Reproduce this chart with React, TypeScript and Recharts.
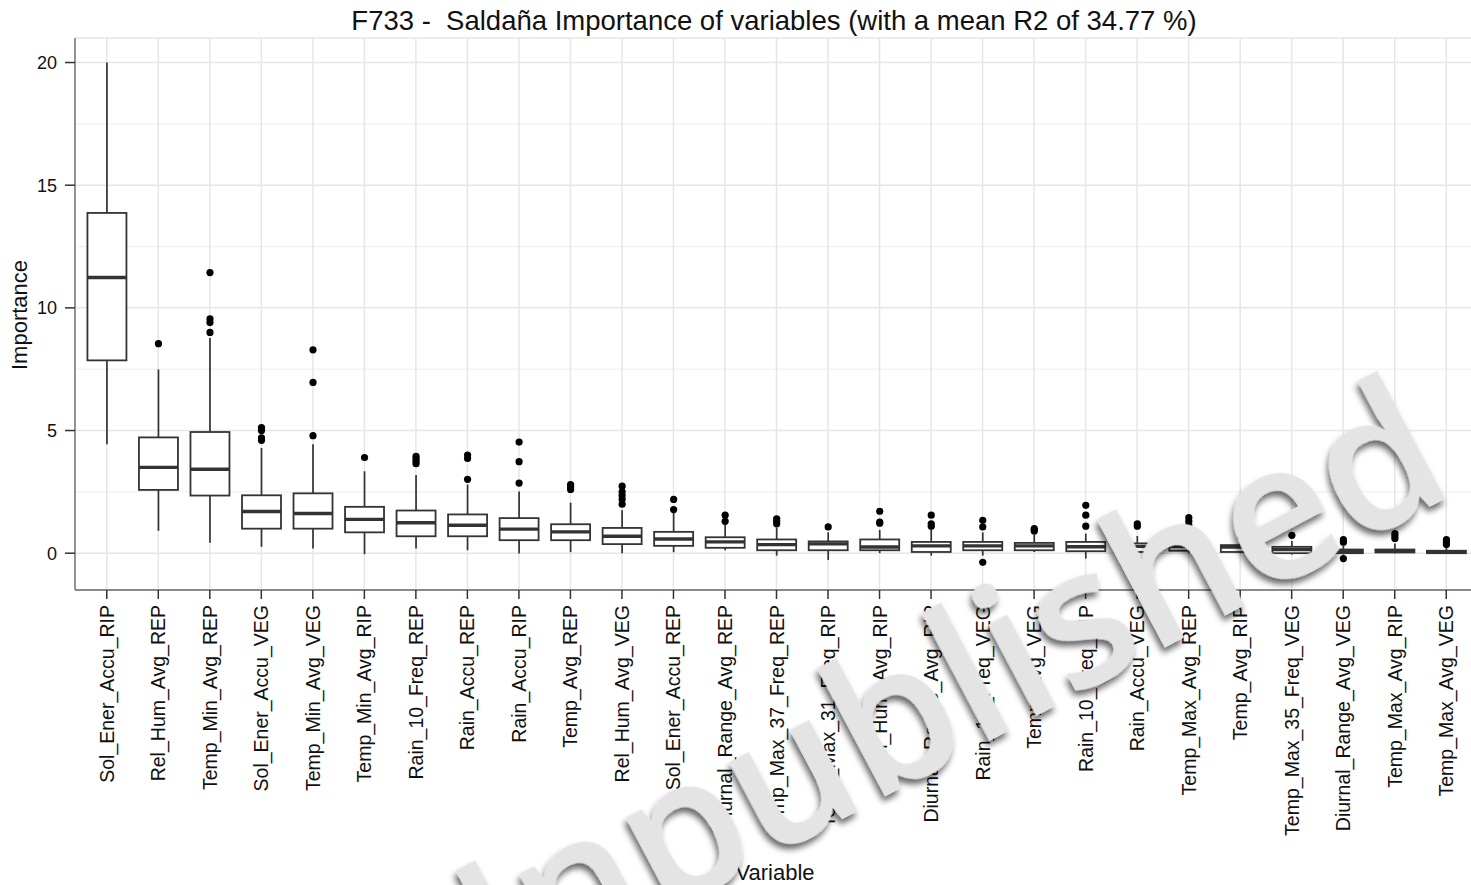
import React from "react";
import { ComposedChart, Bar, XAxis, YAxis, CartesianGrid } from "recharts";

const variables = [
  "Sol_Ener_Accu_RIP", "Rel_Hum_Avg_REP", "Temp_Min_Avg_REP", "Sol_Ener_Accu_VEG",
  "Temp_Min_Avg_VEG", "Temp_Min_Avg_RIP", "Rain_10_Freq_REP", "Rain_Accu_REP",
  "Rain_Accu_RIP", "Temp_Avg_REP", "Rel_Hum_Avg_VEG", "Sol_Ener_Accu_REP",
  "Diurnal_Range_Avg_REP", "Temp_Max_37_Freq_REP", "Temp_Max_31_Freq_RIP", "Rel_Hum_Avg_RIP",
  "Diurnal_Range_Avg_RIP", "Rain_10_Freq_VEG", "Temp_Avg_VEG", "Rain_10_Freq_RIP",
  "Rain_Accu_VEG", "Temp_Max_Avg_REP", "Temp_Avg_RIP", "Temp_Max_35_Freq_VEG",
  "Diurnal_Range_Avg_VEG", "Temp_Max_Avg_RIP", "Temp_Max_Avg_VEG",
];

const whiskerLow = [4.44, 0.91, 0.43, 0.26, 0.19, -0.04, 0.19, 0.12, -0.01, 0.04, 0.0, 0.04, 0.12, -0.1, -0.28, 0.0, -0.1, -0.1, 0.05, -0.22, 0.0, 0.0, 0.0, -0.05, -0.05, 0.0, -0.02];
const q1 = [7.86, 2.58, 2.35, 1.0, 1.0, 0.85, 0.69, 0.69, 0.53, 0.53, 0.37, 0.3, 0.22, 0.12, 0.12, 0.12, 0.05, 0.12, 0.12, 0.08, 0.05, 0.1, 0.05, 0.0, 0.0, 0.03, 0.0];
const median = [11.24, 3.5, 3.42, 1.7, 1.62, 1.38, 1.24, 1.14, 0.98, 0.87, 0.69, 0.58, 0.46, 0.35, 0.38, 0.25, 0.3, 0.3, 0.3, 0.26, 0.28, 0.28, 0.25, 0.15, 0.08, 0.1, 0.05];
const q3 = [13.87, 4.72, 4.94, 2.36, 2.44, 1.89, 1.74, 1.58, 1.43, 1.18, 1.03, 0.87, 0.65, 0.56, 0.48, 0.56, 0.46, 0.46, 0.42, 0.46, 0.4, 0.4, 0.33, 0.26, 0.15, 0.15, 0.1];
const whiskerHigh = [20.0, 7.49, 8.77, 4.29, 4.44, 3.34, 3.19, 2.8, 2.52, 2.06, 1.75, 1.65, 1.15, 1.05, 0.85, 0.95, 0.95, 0.85, 0.75, 0.8, 0.7, 0.9, 0.55, 0.5, 0.3, 0.4, 0.25];
const outliers = [
  [], [8.54], [9.0, 9.4, 9.55, 11.44], [4.6, 4.7, 5.0, 5.12], [4.79, 6.96, 8.29],
  [3.9], [3.65, 3.75, 3.85, 3.95], [3.01, 3.86, 4.0], [2.86, 3.73, 4.53], [2.6, 2.7, 2.8],
  [2.0, 2.2, 2.35, 2.5, 2.73], [1.78, 2.19], [1.3, 1.55], [1.2, 1.3, 1.4], [1.07],
  [1.22, 1.27, 1.71], [1.1, 1.2, 1.55], [1.07, 1.34, -0.37], [0.9, 0.95, 1.0], [1.1, 1.55, 1.95],
  [1.1, 1.2], [1.15, 1.3, 1.45], [0.66, 0.8, 0.94], [0.73], [0.45, 0.55, -0.22],
  [0.6, 0.7, 0.8], [0.35, 0.45, 0.55],
];

const yTicks = [0, 5, 10, 15, 20];
const yMinor = [2.5, 7.5, 12.5, 17.5];

const data = variables.map((name, i) => ({
  name,
  lo: whiskerLow[i],
  q1: q1[i],
  med: median[i],
  q3: q3[i],
  hi: whiskerHigh[i],
  out: outliers[i],
}));

const FONT = "'Liberation Sans', Arial, sans-serif";
const INK = "#333333";

// box + whiskers + outliers, scaled off the [lo, hi] range bar recharts gives us
function BoxShape(props: any) {
  const { x, y, width, height, payload } = props;
  const top = Math.min(y, y + height);
  const h = Math.abs(height);
  const k = h / (payload.hi - payload.lo);
  const py = (v: number) => top + (payload.hi - v) * k;
  const cx = x + width / 2;
  return (
    <g>
      <line x1={cx} x2={cx} y1={py(payload.hi)} y2={py(payload.lo)} stroke={INK} strokeWidth={1.7} />
      <rect x={x} y={py(payload.q3)} width={width} height={py(payload.q1) - py(payload.q3)}
        fill="#fff" stroke={INK} strokeWidth={1.8} />
      <line x1={x} x2={x + width} y1={py(payload.med)} y2={py(payload.med)} stroke={INK} strokeWidth={3.4} />
      {payload.out.map((v: number, j: number) => (
        <circle key={j} cx={cx} cy={py(v)} r={3.6} fill="#000" />
      ))}
    </g>
  );
}

function RotTick(props: any) {
  const { x, y, payload } = props;
  return (
    <text x={x} y={y} transform={`rotate(-90, ${x}, ${y})`} textAnchor="end" dy="0.36em"
      fontSize={19.5} fontFamily={FONT} fill="#111">
      {payload.value}
    </text>
  );
}

export default function App() {
  return (
    <div style={{ position: "absolute", left: 0, top: 0, width: 1471, height: 885, overflow: "hidden", background: "#fff" }}>
      <ComposedChart width={1477} height={885} data={data} barCategoryGap="12.5%"
        margin={{ top: 38, right: 0, bottom: 0, left: 0 }}>
        <CartesianGrid vertical={false} horizontalValues={yMinor} stroke="#f3f3f3" strokeWidth={1.5} />
        <CartesianGrid stroke="#e6e6e6" strokeWidth={1.5} />
        <XAxis dataKey="name" interval={0} height={295} tickSize={9} tickMargin={6}
          padding={{ left: 6, right: 5 }} tick={<RotTick />}
          axisLine={{ stroke: "#8a8a8a", strokeWidth: 1.8 }} tickLine={{ stroke: INK, strokeWidth: 1.5 }} />
        <XAxis xAxisId="top" orientation="top" dataKey="name" height={0} tick={false} tickLine={false}
          padding={{ left: 6, right: 5 }} axisLine={{ stroke: "#8a8a8a", strokeWidth: 1.8 }} />
        <YAxis width={75} domain={[-1.5, 21]} ticks={yTicks} allowDataOverflow tickSize={10} tickMargin={8}
          axisLine={{ stroke: "#8a8a8a", strokeWidth: 1.8 }} tickLine={{ stroke: INK, strokeWidth: 1.5 }}
          tick={{ fontSize: 18, fontFamily: FONT, fill: "#111" }} />
        <Bar dataKey={(d: any) => [d.lo, d.hi]} shape={<BoxShape />} isAnimationActive={false} />
      </ComposedChart>
      <svg width={1471} height={885} style={{ position: "absolute", left: 0, top: 0, pointerEvents: "none" }}>
        <defs>
          <filter id="wmShadow" x="-20%" y="-20%" width="140%" height="140%">
            <feDropShadow dx={-4} dy={4} stdDeviation={3} floodColor="#000" floodOpacity={0.6} />
          </filter>
        </defs>
        <text x={774} y={29.5} textAnchor="middle" fontSize={27.5} fontFamily={FONT} fill="#111"
          style={{ whiteSpace: "pre" }}>
          {"F733 -  Saldaña Importance of variables (with a mean R2 of 34.77 %)"}
        </text>
        <text x={27} y={315} transform="rotate(-90, 27, 315)" textAnchor="middle" fontSize={22} fontFamily={FONT} fill="#111">
          Importance
        </text>
        <text x={775} y={880} textAnchor="middle" fontSize={22} fontFamily={FONT} fill="#111">
          Variable
        </text>
        <text x={944} y={765} transform="rotate(-28, 944, 765)" textAnchor="middle" fontSize={190}
          fontFamily="'Open Sans', sans-serif" fontWeight={600} fill="#e4e4e4" filter="url(#wmShadow)">
          Unpublished
        </text>
      </svg>
    </div>
  );
}
